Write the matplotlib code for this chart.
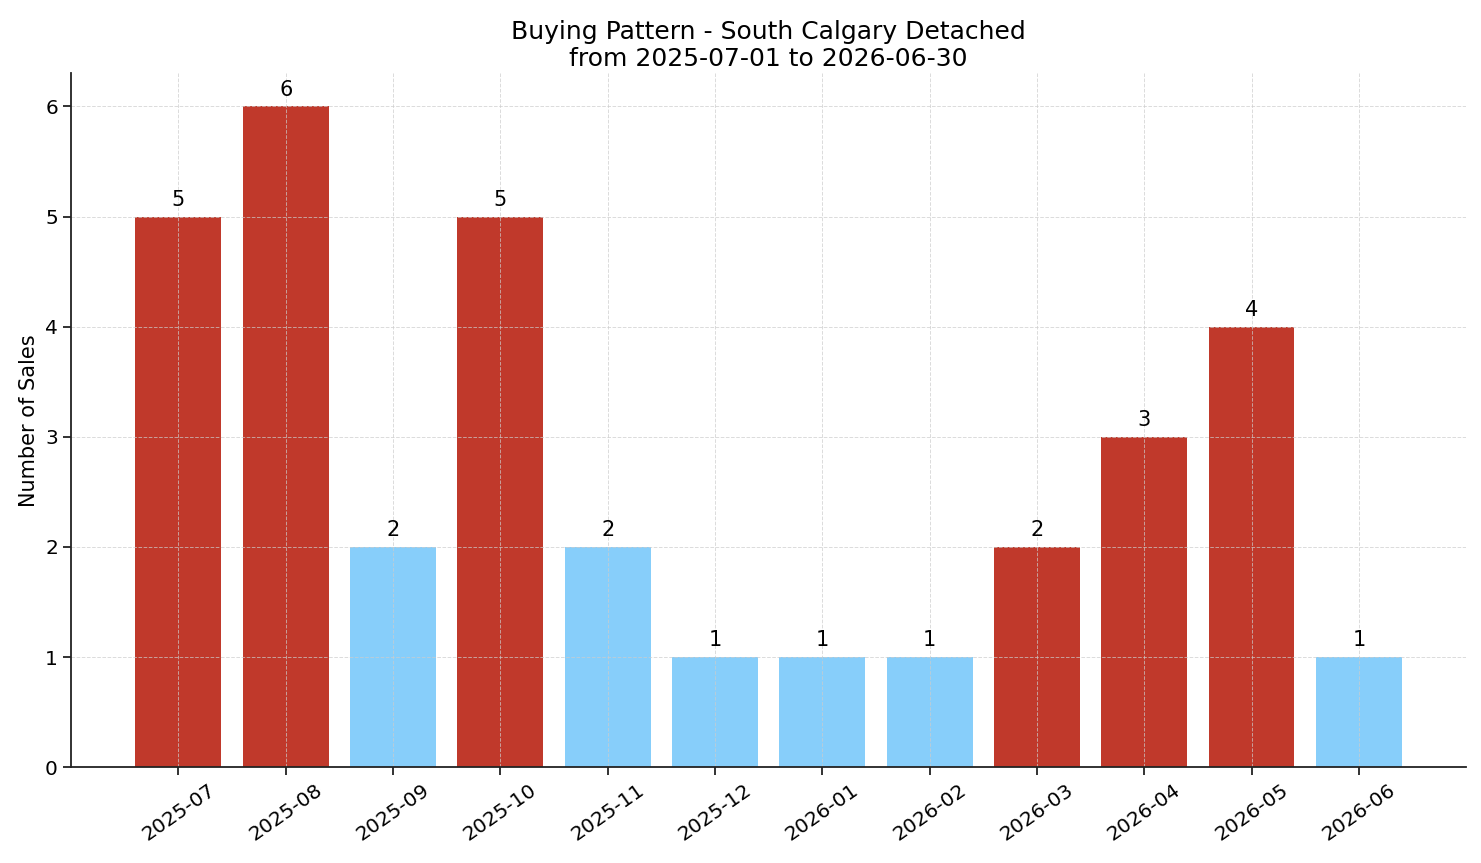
import matplotlib
matplotlib.use("Agg")
import matplotlib.pyplot as plt

months = ["2025-07", "2025-08", "2025-09", "2025-10", "2025-11", "2025-12",
          "2026-01", "2026-02", "2026-03", "2026-04", "2026-05", "2026-06"]
sales = [5, 6, 2, 5, 2, 1, 1, 1, 2, 3, 4, 1]
hot = [True, True, False, True, False, False, False, False, True, True, True, False]

red = '#c0392b'
blue = '#87cefa'

fig, ax = plt.subplots(figsize=(14.81, 8.63), dpi=100)
x = list(range(len(months)))
colors = [red if h else blue for h in hot]
bars = ax.bar(x, sales, color=colors, width=0.8)

for b, v in zip(bars, sales):
    ax.text(b.get_x() + b.get_width() / 2, v + 0.06, str(v),
            ha='center', va='bottom', fontsize=15)

ax.set_xticks(x)
ax.set_xticklabels(months, rotation=35, ha='center', fontsize=14.5)
ax.tick_params(axis='y', labelsize=14.5)
ax.tick_params(length=6, width=1.3, colors='#222222', labelcolor='black')
ax.set_xlim(-1, len(months))
ax.set_ylim(0, max(sales) * 1.05)
ax.set_ylabel('Number of Sales', fontsize=15)
ax.set_title('Buying Pattern - South Calgary Detached\nfrom 2025-07-01 to 2026-06-30',
             fontsize=18, pad=5)
ax.grid(True, linestyle='--', linewidth=0.7, color='#cccccc', alpha=0.7)
ax.spines['top'].set_visible(False)
ax.spines['right'].set_visible(False)
for s in ('left', 'bottom'):
    ax.spines[s].set_linewidth(1.3)
    ax.spines[s].set_color('#222222')

plt.subplots_adjust(left=0.048, right=0.99, top=0.915, bottom=0.111)
plt.savefig('out.png')
